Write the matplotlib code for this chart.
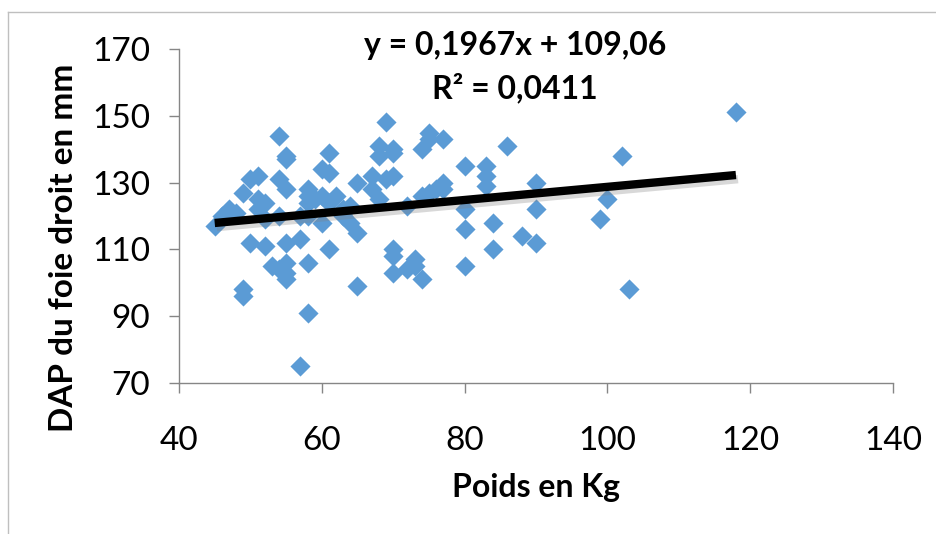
import numpy as np
import matplotlib.pyplot as plt
import matplotlib.patheffects as pe
from matplotlib.lines import Line2D

plt.rcParams['font.family'] = ['Lato', 'DejaVu Sans']

# weight (kg) and right liver AP diameter (mm)
poids = [45, 46, 47, 48, 49, 49, 49, 50, 50, 51,
         51, 51, 52, 52, 52, 53, 54, 54, 54, 54,
         55, 55, 55, 55, 55, 55, 55, 57, 57, 57,
         58, 58, 58, 58, 58, 58, 59, 60, 60, 60,
         61, 61, 61, 61, 62, 63, 63, 64, 64, 65,
         65, 65, 67, 67, 68, 68, 68, 69, 69, 70,
         70, 70, 70, 70, 70, 72, 72, 73, 73, 74,
         74, 74, 75, 75, 75, 76, 77, 77, 77, 80,
         80, 80, 80, 83, 83, 83, 84, 84, 86, 88,
         90, 90, 90, 99, 100, 102, 103, 118]
dap = [117, 120, 122, 121, 127, 98, 96, 131, 112, 132,
       125, 122, 119, 111, 124, 105, 144, 131, 120, 104,
       138, 137, 128, 112, 106, 103, 101, 113, 75, 120,
       128, 126, 124, 106, 91, 120, 125, 134, 126, 118,
       139, 133, 110, 124, 126, 122, 120, 123, 118, 130,
       115, 99, 132, 128, 141, 138, 125, 148, 131, 140,
       139, 132, 110, 108, 103, 123, 104, 107, 105, 140,
       126, 101, 145, 143, 127, 128, 143, 130, 128, 135,
       122, 116, 105, 135, 132, 129, 118, 110, 141, 114,
       130, 122, 112, 119, 125, 138, 98, 151]

pente = 0.1967
ordonnee = 109.06
r2 = 0.0411

xticks = [40, 60, 80, 100, 120, 140]
yticks = [70, 90, 110, 130, 150, 170]

fig = plt.figure(figsize=(9.37, 5.34), dpi=100)
ax = fig.add_axes([179/937, 1-383/534, (893-179)/937, (383-49)/534])

ax.scatter(poids, dap, marker='D', s=105, color='#5B9BD5', linewidths=0, zorder=2)

xl = np.array([min(poids), max(poids)])
ax.plot(xl, pente*xl + ordonnee, color='black', lw=6, solid_capstyle='butt', zorder=3,
        path_effects=[pe.SimpleLineShadow(offset=(1.5, -3), shadow_color='gray', alpha=0.3),
                      pe.Normal()])

ax.set_xlim(40, 140)
ax.set_ylim(70, 170)
ax.set_xticks(xticks)
ax.set_yticks(yticks)
for s in ['top', 'right']:
    ax.spines[s].set_visible(False)
for s in ['left', 'bottom']:
    ax.spines[s].set_color('#868686')
    ax.spines[s].set_linewidth(1)
ax.tick_params(axis='both', colors='#868686', labelcolor='black', labelsize=24,
               length=7, width=1, direction='out')
ax.tick_params(axis='x', pad=24)
ax.tick_params(axis='y', pad=14)

ax.set_xlabel('Poids en Kg', fontsize=23, fontweight='bold', labelpad=12)
ax.set_ylabel('DAP du foie droit en mm', fontsize=24, fontweight='bold')
ax.yaxis.set_label_coords(-0.141, 0.404)

ax.text(515/937, 1-45/534, 'y = 0,1967x + 109,06', transform=fig.transFigure,
        ha='center', va='center', fontsize=23, fontweight='bold')
ax.text(515/937, 1-88/534, 'R² = 0,0411', transform=fig.transFigure,
        ha='center', va='center', fontsize=23, fontweight='bold')

# outer chart border
fig.add_artist(Line2D([8/937, 1], [1-12/534, 1-12/534], transform=fig.transFigure, color='#BFBFBF', lw=1))
fig.add_artist(Line2D([8/937, 8/937], [0, 1-12/534], transform=fig.transFigure, color='#BFBFBF', lw=1))

fig.savefig('out.png', dpi=100)
